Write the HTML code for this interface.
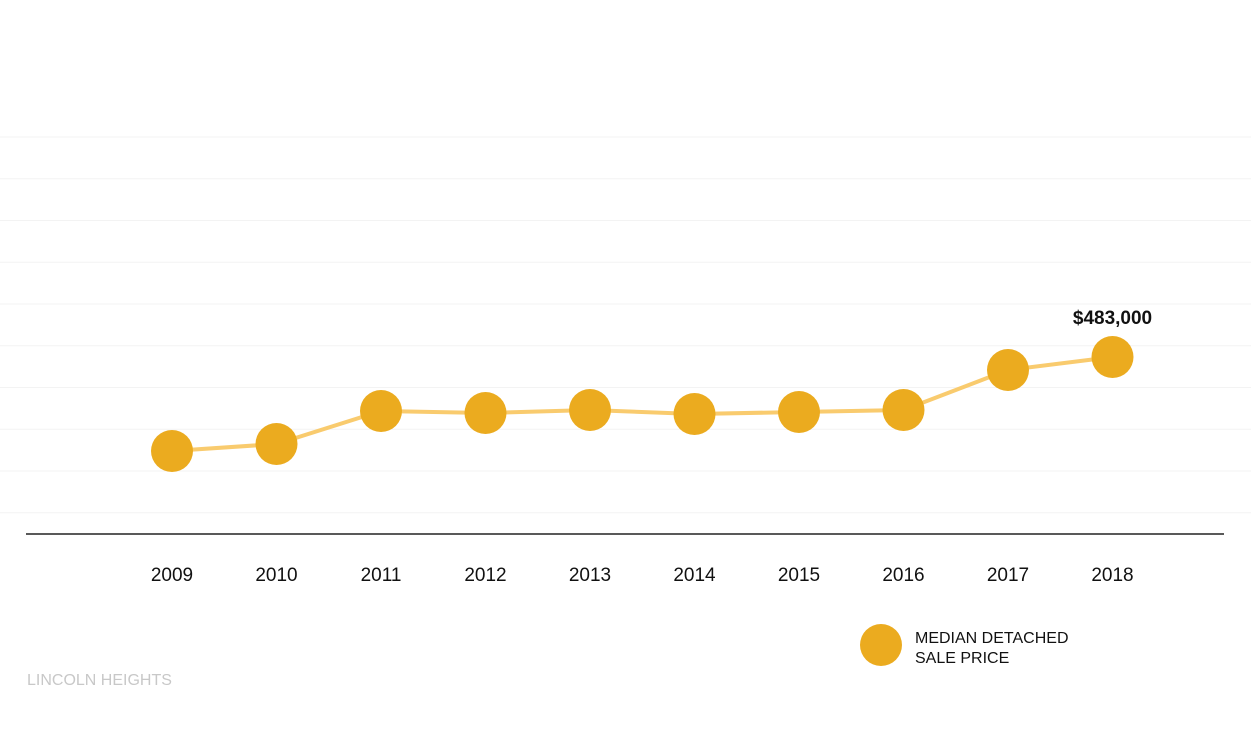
<!DOCTYPE html>
<html><head><meta charset="utf-8"><style>
html,body{margin:0;padding:0;background:#fff;}
svg{display:block;font-family:"Liberation Sans",sans-serif;}
</style></head><body>
<svg width="1251" height="730" id="chart">
</svg>
<script>
const years=["2009","2010","2011","2012","2013","2014","2015","2016","2017","2018"];
const prices=[226500,245600,335600,330200,338400,327500,332900,338400,447500,483000];
const labelText="$483,000";
const svg=document.getElementById('chart');
const NS='http://www.w3.org/2000/svg';
function mk(t,a,p){const e=document.createElementNS(NS,t);for(const k in a)e.setAttribute(k,a[k]);(p||svg).appendChild(e);return e;}
const x=i=>172+i*104.5;
const y=v=>534-v/483000*177;
// gridlines
for(let i=0;i<10;i++){const gy=137+i*41.75;
const g=mk('line',{x1:0,x2:1251,y1:gy,y2:gy,stroke:'#f3f3f3','stroke-width':1});

}
const ax=mk('line',{x1:26,x2:1224,y1:534,y2:534,stroke:'#222','stroke-width':1.5});


const pl=mk('polyline',{points:prices.map((v,i)=>x(i)+','+y(v)).join(' '),fill:'none',stroke:'#f9cb6e','stroke-width':4});


prices.forEach((v,i)=>{
const c=mk('circle',{cx:x(i),cy:y(v),r:21,fill:'#ebab1f'});


const t=mk('text',{x:x(i),y:581,'text-anchor':'middle','font-size':19,fill:'#111'});
t.textContent=years[i];


});
const last=prices.length-1;
const lb=mk('text',{x:x(last),y:y(prices[last])-33,'text-anchor':'middle','font-size':19,'font-weight':'bold',fill:'#111'});
lb.textContent=labelText;


const lc=mk('circle',{cx:881,cy:645,r:21,fill:'#ebab1f'});


[["MEDIAN DETACHED",643],["SALE PRICE",663]].forEach(([s,yy])=>{
const t=mk('text',{x:915,y:yy,'font-size':16,fill:'#111'});t.textContent=s;

});
const ft=mk('text',{x:27,y:685,'font-size':16,fill:'#c8c8c8'});ft.textContent="LINCOLN HEIGHTS";


</script>
</body></html>
